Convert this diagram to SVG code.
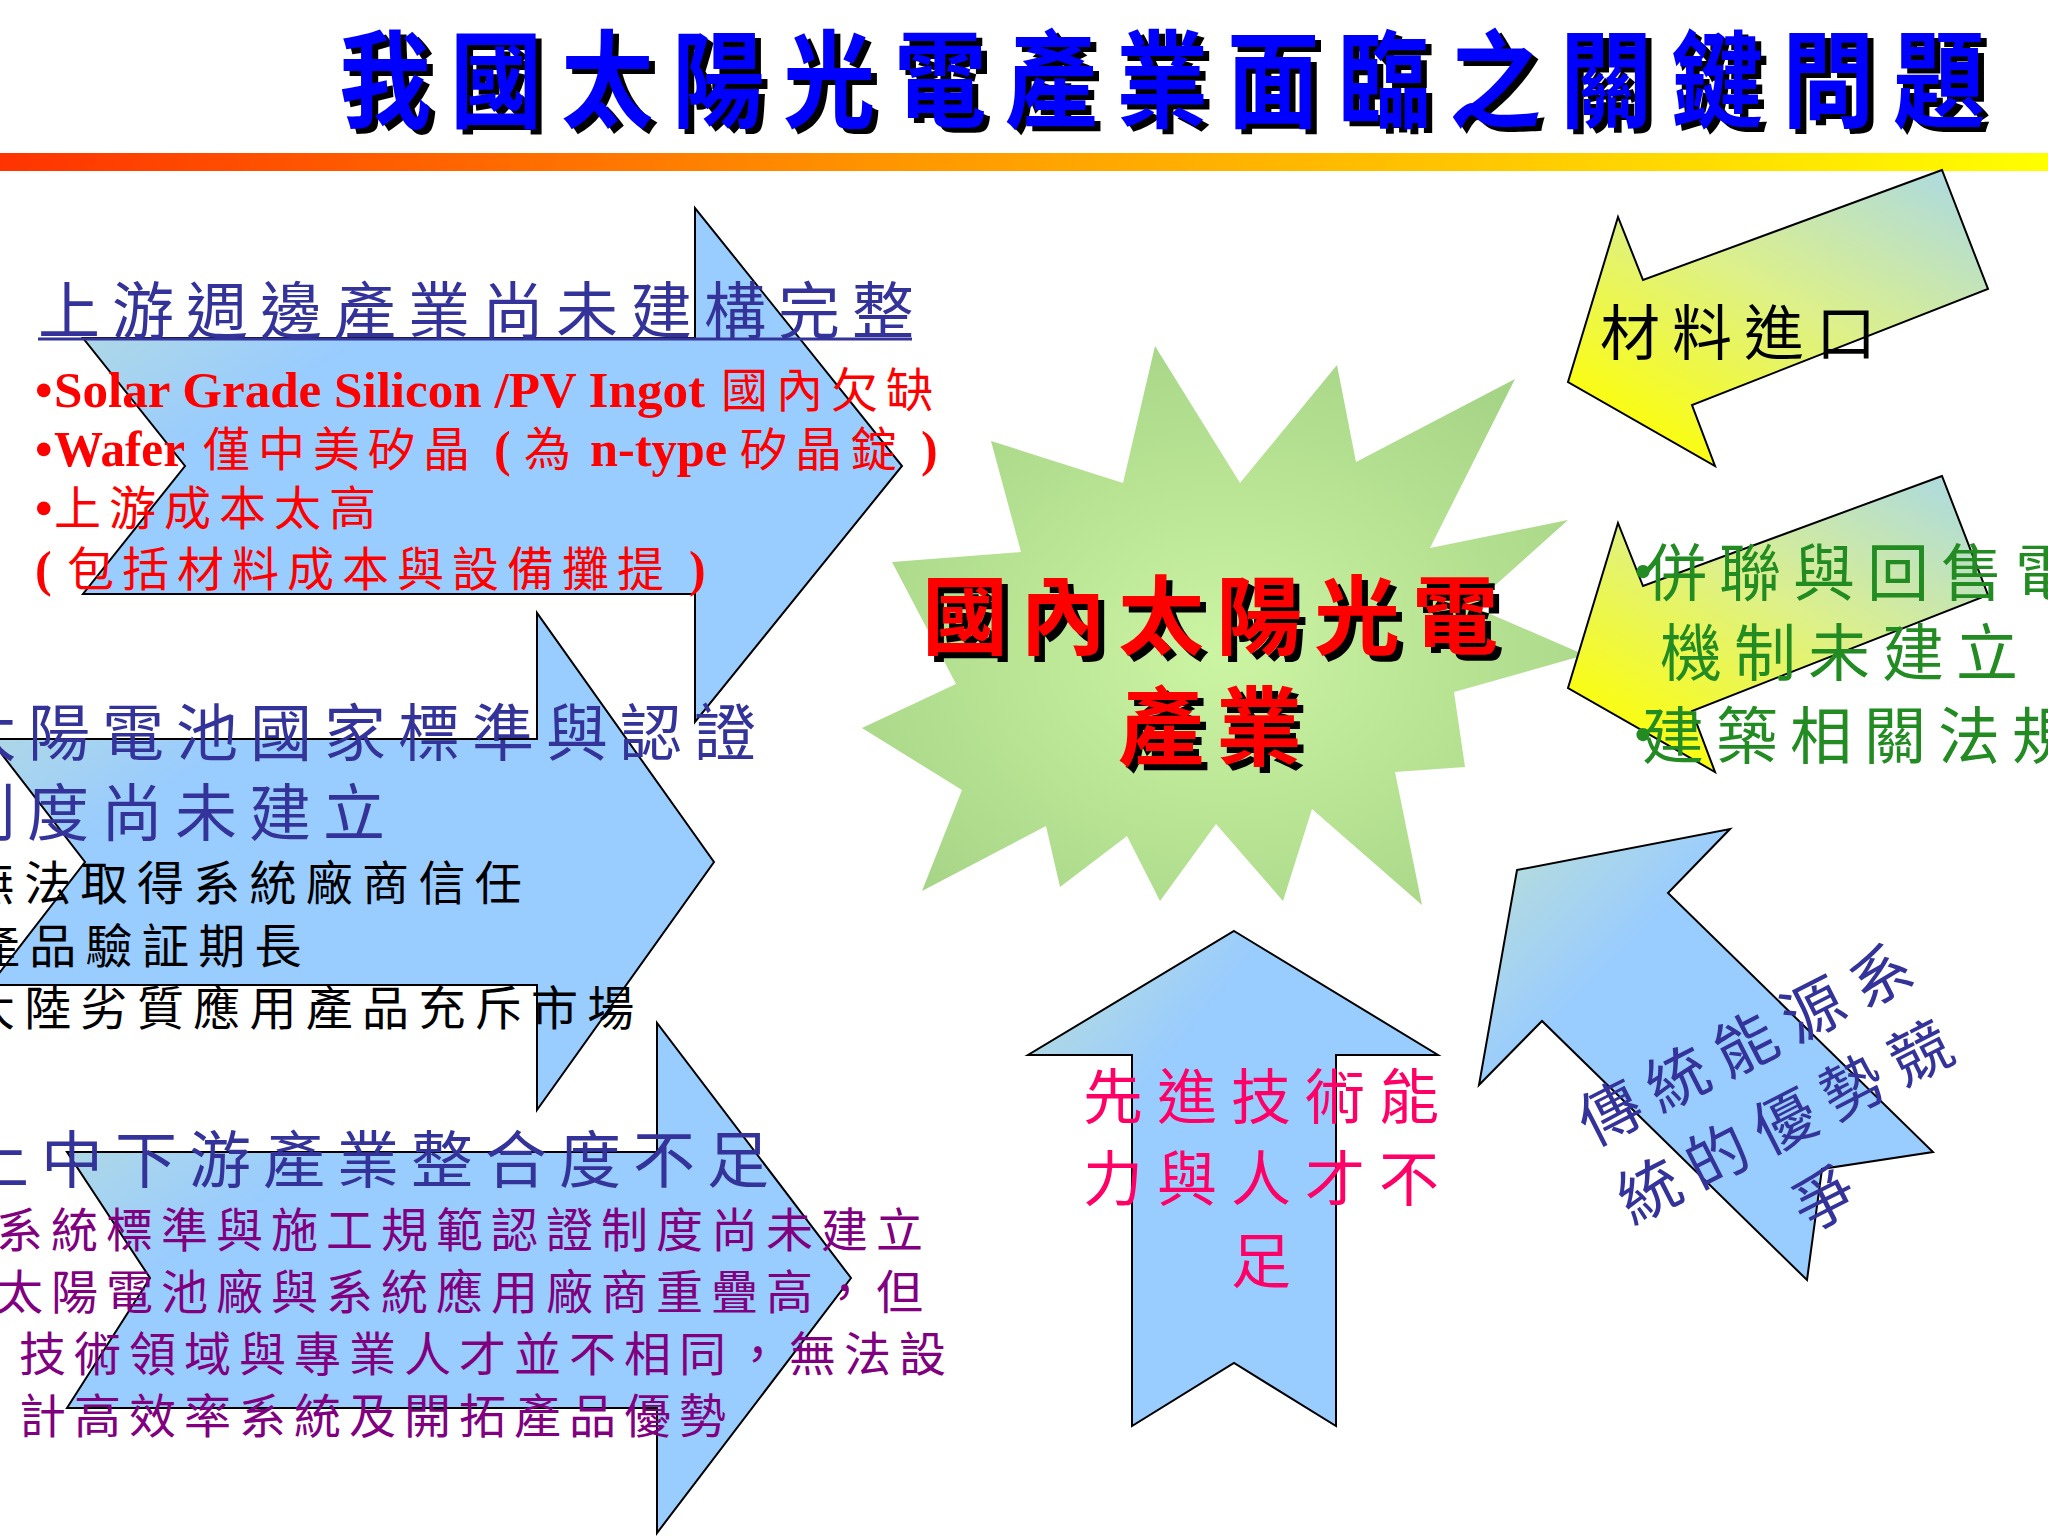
<svg xmlns="http://www.w3.org/2000/svg" width="2048" height="1536" viewBox="0 0 2048 1536">
<defs>
<linearGradient id="barGrad" x1="0" y1="0" x2="1" y2="0">
<stop offset="0" stop-color="#FF3300"/>
<stop offset="0.45" stop-color="#FF9900"/>
<stop offset="0.75" stop-color="#FFCC00"/>
<stop offset="1" stop-color="#FFFF00"/>
</linearGradient>
<linearGradient id="blueGrad" x1="0" y1="0" x2="1" y2="1">
<stop offset="0" stop-color="#BDE0D4"/>
<stop offset="0.3" stop-color="#99CCFF"/>
<stop offset="1" stop-color="#99CCFF"/>
</linearGradient>
<linearGradient id="yellowGrad" x1="1" y1="0" x2="0.2" y2="1">
<stop offset="0" stop-color="#A8D8E8"/>
<stop offset="0.5" stop-color="#DDF08A"/>
<stop offset="1" stop-color="#FFFF00"/>
</linearGradient>
<radialGradient id="burstGrad" cx="0.5" cy="0.55" r="0.6">
<stop offset="0" stop-color="#CCF5A3"/>
<stop offset="1" stop-color="#A6D486"/>
</radialGradient>
<style>
.cjk{font-family:"Noto Sans CJK TC","Noto Sans CJK SC",sans-serif;}
.ser{font-family:"Liberation Serif","Times New Roman",serif;font-weight:bold;}
.arrow{fill:url(#blueGrad);stroke:#000;stroke-width:2;stroke-linejoin:miter;}
.yarrow{fill:url(#yellowGrad);stroke:#000;stroke-width:2;}
.ttl{font-size:106px;font-weight:bold;letter-spacing:21.6px;}
.hdr{font-size:62px;letter-spacing:12px;fill:#333399;}
.red{font-size:47px;letter-spacing:8px;fill:#FF0000;}
.redl{font-size:50px;fill:#FF0000;}
.blk{font-size:47px;letter-spacing:9.3px;fill:#000;}
.pur{font-size:47px;letter-spacing:8px;fill:#800080;}
.grn{font-size:62px;letter-spacing:12px;fill:#228B22;}
.pink{font-size:60px;letter-spacing:14px;fill:#FF0066;}
.burst{font-size:86px;font-weight:bold;letter-spacing:12px;}
</style>
</defs>
<rect width="2048" height="1536" fill="#FFFFFF"/>

<g id="title">
<text class="cjk ttl" transform="translate(345 124) scale(0.87 1)" x="0" y="0" fill="#000">我國太陽光電產業面臨之關鍵問題</text>
<text class="cjk ttl" transform="translate(339 119) scale(0.87 1)" x="0" y="0" fill="#0000FF">我國太陽光電產業面臨之關鍵問題</text>
<rect x="0" y="153" width="2048" height="18" fill="url(#barGrad)"/>
</g>

<g id="burst">
<polygon fill="url(#burstGrad)" points="1155,346 1240,483 1337,365 1356,462 1515,379 1430,548 1568,520 1472,606 1585,655 1454,692 1465,767 1395,772 1422,905 1312,809 1283,901 1216,824 1160,901 1127,836 1060,887 1046,826 922,891 962,790 862,728 956,684 892,562 1021,552 991,441 1123,483"/>
<text class="cjk burst" x="928" y="654" fill="#000">國內太陽光電</text>
<text class="cjk burst" x="922" y="648" fill="#FF0000">國內太陽光電</text>
<text class="cjk burst" x="1124" y="765" fill="#000">產業</text>
<text class="cjk burst" x="1118" y="759" fill="#FF0000">產業</text>
</g>

<g id="arrow-upstream">
<polygon class="arrow" points="83,338 695,338 695,208 902,466 695,722 695,594 83,594 185,466"/>
<text class="cjk hdr" x="38" y="334">上游週邊產業尚未建構完整</text>
<line x1="38" y1="339" x2="912" y2="339" stroke="#333399" stroke-width="3"/>
<text class="ser redl" x="35" y="407">•</text>
<text class="ser redl" x="54" y="407" textLength="651" lengthAdjust="spacingAndGlyphs">Solar Grade Silicon /PV Ingot</text>
<text class="cjk red" x="721" y="407">國內欠缺</text>
<text class="ser redl" x="35" y="466">•</text>
<text class="ser redl" x="54" y="466" textLength="131" lengthAdjust="spacingAndGlyphs">Wafer</text>
<text class="cjk red" x="203" y="466">僅中美矽晶</text>
<text class="ser redl" x="494" y="466">(</text>
<text class="cjk red" x="524" y="466">為</text>
<text class="ser redl" x="590" y="466" textLength="137" lengthAdjust="spacingAndGlyphs">n-type</text>
<text class="cjk red" x="740" y="466">矽晶錠</text>
<text class="ser redl" x="921" y="466">)</text>
<text class="ser redl" x="35" y="525">•</text>
<text class="cjk red" x="54" y="525">上游成本太高</text>
<text class="ser redl" x="35" y="586">(</text>
<text class="cjk red" x="67" y="586">包括材料成本與設備攤提</text>
<text class="ser redl" x="689" y="586">)</text>
</g>

<g id="arrow-standard">
<polygon class="arrow" points="-10,739 537,739 537,613 714,862 537,1110 537,985 -10,985 85,862"/>
<text class="cjk hdr" x="-46" y="756">太陽電池國家標準與認證</text>
<text class="cjk hdr" x="-47" y="836">制度尚未建立</text>
<text class="cjk blk" x="-32" y="900">無法取得系統廠商信任</text>
<text class="cjk blk" x="-27" y="963">產品驗証期長</text>
<text class="cjk blk" x="-32" y="1025">大陸劣質應用產品充斥市場</text>
</g>

<g id="arrow-integration">
<polygon class="arrow" points="67,1152 657,1152 657,1023 851,1278 657,1533 657,1408 67,1408 150,1278"/>
<text class="cjk hdr" x="-33" y="1183">上中下游產業整合度不足</text>
<text class="cjk pur" x="-4" y="1247">系統標準與施工規範認證制度尚未建立</text>
<text class="cjk pur" x="-4" y="1309">太陽電池廠與系統應用廠商重疊高，但</text>
<text class="cjk pur" x="19" y="1371">技術領域與專業人才並不相同，無法設</text>
<text class="cjk pur" x="19" y="1433">計高效率系統及開拓產品優勢</text>
</g>

<g id="arrow-import">
<polygon class="yarrow" points="1942,170 1643,280 1618,217 1568,382 1715,466 1692,405 1988,289"/>
<text class="cjk" x="1600" y="355" font-size="60" letter-spacing="12" fill="#000">材料進口</text>
</g>

<g id="arrow-grid">
<polygon class="yarrow" points="1942,476 1643,586 1618,523 1568,688 1715,772 1692,711 1988,595"/>
<text class="cjk grn" x="1612" y="596" letter-spacing="0">•</text>
<text class="cjk grn" x="1645" y="596">併聯與回售電</text>
<text class="cjk grn" x="1660" y="676">機制未建立</text>
<text class="cjk grn" x="1612" y="759" letter-spacing="0">•</text>
<text class="cjk grn" x="1642" y="759">建築相關法規</text>
</g>

<g id="arrow-tech">
<polygon class="arrow" points="1234,931 1438,1055 1336,1055 1336,1426 1234,1363 1132,1426 1132,1055 1028,1055"/>
<text class="cjk pink" x="1268" y="1119" text-anchor="middle">先進技術能</text>
<text class="cjk pink" x="1268" y="1201" text-anchor="middle">力與人才不</text>
<text class="cjk pink" x="1268" y="1283" text-anchor="middle">足</text>
</g>

<g id="arrow-traditional">
<polygon class="arrow" points="1517,870 1730,829 1668,893 1933,1152 1822,1169 1807,1280 1542,1021 1479,1085"/>
<g transform="translate(1785,1122) rotate(-27)">
<text class="cjk" x="7" y="-65" text-anchor="middle" font-size="62" letter-spacing="14" fill="#333399">傳統能源系</text>
<text class="cjk" x="7" y="22" text-anchor="middle" font-size="62" letter-spacing="14" fill="#333399">統的優勢競</text>
<text class="cjk" x="7" y="109" text-anchor="middle" font-size="62" letter-spacing="14" fill="#333399">爭</text>
</g>
</g>

<g id="connectors"></g>
</svg>
